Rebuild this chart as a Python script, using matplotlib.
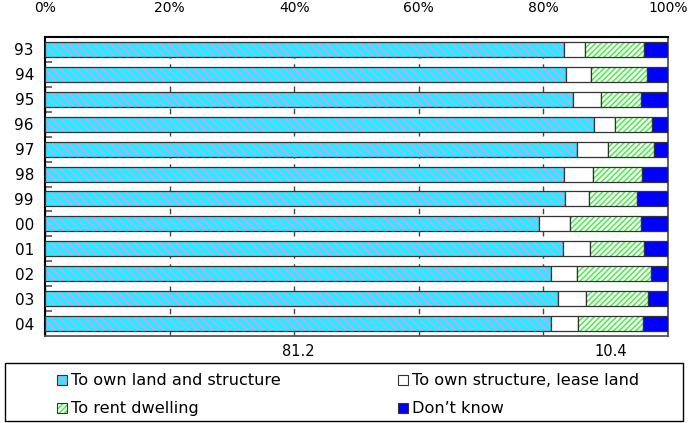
import numpy as np
import matplotlib.pyplot as plt
from matplotlib.colors import to_rgba
from matplotlib.patches import Rectangle
from matplotlib.transforms import blended_transform_factory

plt.rcParams["font.family"] = ["DejaVu Sans"]

years = ["93", "94", "95", "96", "97", "98", "99", "00", "01", "02", "03", "04"]
own_land = [83.3, 83.6, 84.8, 88.1, 85.4, 83.3, 83.4, 79.3, 83.1, 81.3, 82.4, 81.2]
own_structure = [3.4, 4.1, 4.5, 3.4, 5.0, 4.7, 3.9, 4.9, 4.3, 4.1, 4.4, 4.4]
rent = [9.4, 9.0, 6.4, 5.9, 7.3, 7.8, 7.7, 11.5, 8.7, 11.9, 10.0, 10.4]
dont_know = [3.9, 3.3, 4.3, 2.6, 2.3, 4.2, 5.0, 4.3, 3.9, 2.7, 3.2, 4.0]

series_names = ["To own land and structure", "To own structure, lease land",
                "To rent dwelling", "Don\u2019t know"]
styles = [
    dict(facecolor="#00ffff", hatch="\\" * 4, hatchcolor="#c4a4f6", hlw=1.7),
    dict(facecolor="white", hatch=None, hatchcolor="black", hlw=1.0),
    dict(facecolor="white", hatch="/" * 6, hatchcolor="#44f044", hlw=1.1),
    dict(facecolor="#0000ff", hatch=None, hatchcolor="black", hlw=1.0),
]

fig = plt.figure(figsize=(6.88, 4.23), dpi=100)
ax = fig.add_axes([45 / 688, 1 - 336 / 423, 623 / 688, (336 - 37) / 423])

y = np.arange(len(years))
left = np.zeros(len(years))
for vals, st in zip([own_land, own_structure, rent, dont_know], styles):
    vals = np.array(vals)
    plt.rcParams["hatch.linewidth"] = st["hlw"]
    bars = ax.barh(y, vals, left=left, height=0.6, color=st["facecolor"],
                   edgecolor="#333333", linewidth=0.9, zorder=3)
    if st["hatch"]:
        for b in bars:
            b.set_hatch(st["hatch"])
            b._hatch_color = to_rgba(st["hatchcolor"])
    left += vals

ax.set_xlim(0, 100)
ax.set_ylim(len(years) - 0.5, -0.5)
ax.set_xticks(np.arange(0, 101, 20))
ax.set_xticklabels([f"{v}%" for v in range(0, 101, 20)])
ax.xaxis.tick_top()
ax.tick_params(axis="x", length=0, pad=16, labelsize=10)
ax.set_yticks(y)
ax.set_yticklabels(years)
ax.tick_params(axis="y", length=0, pad=8, labelsize=11)
ax.set_yticks(np.arange(len(years) - 1) + 0.5, minor=True)
ax.tick_params(axis="y", which="minor", direction="in", length=5, width=1.2, color="#555555")
ax.grid(axis="x", color="#444444", linestyle=(0, (4, 4)), linewidth=1, zorder=0)

for side in ["top", "left"]:
    ax.spines[side].set_linewidth(1.5)
    ax.spines[side].set_color("black")
for side in ["bottom", "right"]:
    ax.spines[side].set_linewidth(1.3)
    ax.spines[side].set_color("#555555")

# value labels for the last year, under the plot
trans = blended_transform_factory(ax.transData, fig.transFigure)
ax.text(own_land[-1] / 2, 1 - 351 / 423, f"{own_land[-1]}", transform=trans,
        ha="center", va="center", fontsize=10.5)
rent_mid = own_land[-1] + own_structure[-1] + rent[-1] / 2
ax.text(rent_mid, 1 - 351 / 423, f"{rent[-1]}", transform=trans,
        ha="center", va="center", fontsize=10.5)

# legend box
fig.patches.append(Rectangle((5 / 688, 1 - 421 / 423), 678 / 688, 58 / 423,
                             transform=fig.transFigure, fill=False,
                             edgecolor="black", linewidth=1))
entry_pos = [(57, 380), (398, 380), (57, 408), (398, 408)]
for name, st, (px, py) in zip(series_names, styles, entry_pos):
    plt.rcParams["hatch.linewidth"] = st["hlw"]
    sq = Rectangle((px / 688, 1 - (py + 5) / 423), 10 / 688, 10 / 423,
                   transform=fig.transFigure, facecolor=st["facecolor"],
                   edgecolor="#333333", linewidth=0.8)
    if st["hatch"]:
        sq.set_hatch(st["hatch"])
        sq._hatch_color = to_rgba(st["hatchcolor"])
    fig.patches.append(sq)
    fig.text((px + 14) / 688, 1 - py / 423, name, ha="left", va="center",
             fontsize=11.6)

fig.savefig("out.png", dpi=100)
